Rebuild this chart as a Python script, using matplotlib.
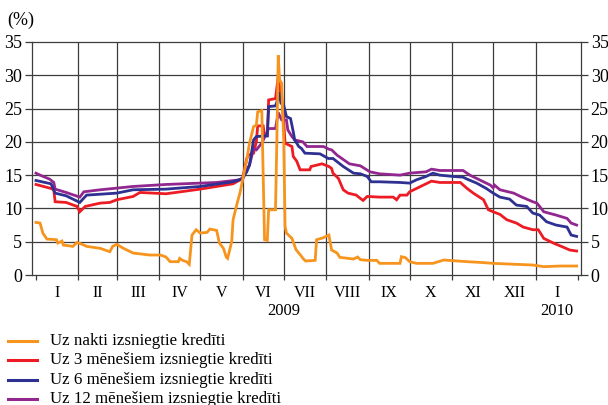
import numpy as np
import matplotlib
matplotlib.use('Agg')
import matplotlib.pyplot as plt
from matplotlib.lines import Line2D
import matplotlib.transforms as mtransforms

plt.rcParams['font.family'] = ['Liberation Serif', 'DejaVu Serif']

# x values: days since 1 January 2009
on_days = [0, 3, 5, 8, 15, 16, 19, 20, 27, 30, 35, 37, 47, 54, 56, 59, 64, 71, 83, 91, 95, 98,
           104, 105, 107, 110, 112, 114, 117, 120, 125, 127, 132, 134, 137, 139, 140, 143, 144,
           147, 149, 151, 154, 156, 159, 161, 162, 165, 166, 167, 169, 170, 175, 176, 177, 178,
           179.5, 181, 182, 183, 187, 190, 194, 195, 197, 204, 205, 210, 214, 216, 220, 222,
           232, 235, 237, 242, 249, 251, 266, 267, 270, 273, 278, 290, 298, 315, 324, 334,
           351, 363, 371, 383, 395]
on_vals = [7.9, 7.8, 6.3, 5.4, 5.3, 4.8, 5.1, 4.5, 4.3, 4.9, 4.5, 4.3, 4.0, 3.5, 4.3, 4.6, 4.0,
           3.3, 3.0, 3.0, 2.7, 2.0, 2.0, 2.5, 2.2, 2.0, 1.6, 6.0, 6.8, 6.3, 6.4, 6.9, 6.7, 4.8,
           4.0, 2.7, 2.5, 5.0, 8.3, 10.8, 12.3, 14.3, 17.3, 19.8, 22.3, 22.5, 24.5, 24.7, 15.0,
           5.3, 5.2, 9.8, 9.8, 20.3, 33.0, 29.3, 28.8, 20.3, 7.3, 6.3, 5.5, 3.8, 2.8, 2.5, 2.1,
           2.2, 5.3, 5.6, 6.0, 3.75, 3.3, 2.65, 2.4, 2.7, 2.3, 2.2, 2.2, 1.75, 1.75, 2.75, 2.6,
           2.0, 1.75, 1.75, 2.25, 2.0, 1.9, 1.75, 1.6, 1.5, 1.25, 1.35, 1.35]

m3_days = [0, 11, 13, 14, 22, 30, 32, 36, 47, 54, 59, 71, 76, 95, 120, 144, 151, 154, 155, 159,
           161, 162, 166, 167, 169, 170, 175, 177, 178, 179.5, 181, 182, 187, 188, 190.5, 193,
           200, 201, 205, 209, 214, 216, 217, 221, 224.5, 228, 234, 237, 239, 242, 251, 261,
           263.5, 266, 271, 273, 281, 289, 295, 305, 310, 315, 319.5, 327, 330.5, 334, 339, 344,
           351, 356, 363, 367, 371, 378, 385, 390, 395]
m3_vals = [13.6, 13.0, 12.8, 11.0, 10.9, 10.3, 9.5, 10.3, 10.8, 10.9, 11.3, 11.8, 12.4, 12.2,
           12.9, 13.7, 14.5, 17.5, 18.0, 18.3, 20.0, 22.4, 22.4, 20.9, 20.9, 26.3, 26.5, 29.8,
           28.3, 26.9, 22.8, 19.8, 19.3, 17.8, 17.1, 15.8, 15.8, 16.3, 16.5, 16.7, 16.3, 16.0,
           15.3, 14.5, 12.8, 12.3, 12.0, 11.5, 11.2, 11.8, 11.7, 11.7, 11.3, 12.0, 12.0, 12.5,
           13.3, 14.1, 13.9, 13.9, 13.9, 13.0, 12.3, 11.3, 9.8, 9.5, 9.1, 8.3, 7.8, 7.2, 6.8,
           6.8, 5.5, 4.8, 4.2, 3.75, 3.6]

m6_days = [0, 11, 14, 22, 32, 37, 59, 71, 95, 120, 144, 151, 154, 156, 159, 161, 169, 170, 175,
           176, 177.5, 179, 181, 183, 186, 188, 189, 192, 194, 196.5, 207.5, 211, 213.6, 217,
           224.5, 232, 237, 242, 245, 251, 266, 273, 278, 285, 290, 295, 305, 312, 315, 322,
           329, 334, 339, 346, 351, 358.5, 363, 368, 373, 380, 388, 391, 395]
m6_vals = [14.2, 13.7, 12.3, 11.9, 10.9, 12.0, 12.3, 12.8, 12.9, 13.3, 14.0, 14.5, 15.5, 16.5,
           20.3, 20.8, 20.9, 25.3, 25.4, 26.0, 27.5, 25.8, 25.5, 23.8, 23.5, 21.5, 20.3, 19.3,
           19.0, 18.3, 18.2, 17.8, 17.5, 17.5, 16.3, 15.3, 15.2, 14.8, 14.0, 14.0, 13.9, 13.8,
           14.3, 14.8, 15.3, 15.0, 14.8, 14.7, 14.4, 13.8, 13.0, 12.3, 11.7, 11.4, 10.5, 10.3,
           9.3, 9.0, 8.0, 7.5, 7.2, 6.0, 5.8]

m12_days = [0, 3, 10, 13, 14, 22, 32, 35, 47, 71, 95, 132, 149, 151, 153, 156, 159, 161, 165,
            170, 175, 177, 179.5, 183, 184, 187, 189, 195, 198, 210, 214, 216, 220, 229, 237,
            244, 251, 266, 273, 285, 289, 295, 312, 317, 324, 332, 334, 335, 339, 349, 354,
            363, 366, 371, 380, 388, 391, 395]
m12_vals = [15.3, 15.0, 14.4, 13.9, 12.9, 12.4, 11.7, 12.5, 12.8, 13.3, 13.6, 13.9, 14.3, 14.6,
            15.5, 16.5, 19.0, 18.8, 19.8, 22.0, 22.0, 24.4, 23.3, 23.3, 21.8, 20.8, 20.3, 20.0,
            19.3, 19.3, 18.9, 18.8, 18.0, 16.7, 16.4, 15.5, 15.2, 15.0, 15.3, 15.5, 15.9, 15.7,
            15.7, 15.0, 14.3, 13.5, 13.1, 13.5, 12.8, 12.3, 11.8, 11.0, 10.8, 9.5, 9.0, 8.5,
            7.8, 7.5]

series_names = ['Uz nakti izsniegtie kredīti', 'Uz 3 mēnešiem izsniegtie kredīti',
                'Uz 6 mēnešiem izsniegtie kredīti', 'Uz 12 mēnešiem izsniegtie kredīti']
series_colors = ['#F7941D', '#ED1C24', '#2E3192', '#92278F']

month_starts = [0, 31, 59, 90, 120, 151, 181, 212, 243, 273, 304, 334, 365, 396]
month_labels = ['I', 'II', 'III', 'IV', 'V', 'VI', 'VII', 'VIII', 'IX', 'X', 'XI', 'XII', 'I']
year_labels = ['2009', '2010']
year_pos = [181, 380.5]
y_ticks = [0, 5, 10, 15, 20, 25, 30, 35]

W, H = 608, 405
fig = plt.figure(figsize=(W / 100, H / 100), dpi=100)
ax = fig.add_axes([32 / W, 130 / H, 549 / W, 233 / H])
ax.set_xlim(-2.9, 398.2)
ax.set_ylim(0, 35)

gcol = '#3c3c3c'
for v in y_ticks[1:-1]:
    ax.axhline(v, color=gcol, lw=0.9, zorder=1)
for m in month_starts[1:-1]:
    ax.axvline(m, color=gcol, lw=0.9, zorder=1)

data = [(on_days, on_vals), (m3_days, m3_vals), (m6_days, m6_vals), (m12_days, m12_vals)]
order = [1, 3, 2, 0]
for z, i in enumerate(order):
    d, v = data[i]
    ax.plot(d, v, color=series_colors[i], lw=2.0, solid_joinstyle='miter', zorder=3 + z)

for s in ['left', 'right', 'bottom', 'top']:
    ax.spines[s].set_color(gcol)
    ax.spines[s].set_linewidth(0.9)

ax.set_yticks(y_ticks)
ax.set_yticklabels([str(t) for t in y_ticks])
ax.tick_params(axis='y', which='major', left=True, right=True, labelleft=True, labelright=True,
               direction='out', length=5, width=0.9, color=gcol, pad=2, labelsize=13)
ax.set_xticks(month_starts)
ax.tick_params(axis='x', which='major', direction='out', length=3.5, width=0.9, color=gcol,
               labelbottom=False)

trans = mtransforms.blended_transform_factory(ax.transData, ax.transAxes)
for k, lab in enumerate(month_labels):
    mid = (month_starts[k] + month_starts[k + 1]) / 2
    ax.text(mid, -22 / 233, lab, transform=trans, ha='center', va='baseline', fontsize=11.5)
for p, lab in zip(year_pos, year_labels):
    ax.text(p, -40 / 233, lab, transform=trans, ha='center', va='baseline', fontsize=12)

fig.text(7 / W, 1 - 20 / H, '(%)', ha='left', va='center', fontsize=13)

row_y = [341, 360, 380, 399]
for i in range(4):
    yy = 1 - row_y[i] / H
    fig.add_artist(Line2D([8 / W, 37 / W], [yy, yy], transform=fig.transFigure,
                          color=series_colors[i], lw=2.2))
    fig.text(50 / W, yy, series_names[i], ha='left', va='center', fontsize=12.2)

fig.savefig('out.png', dpi=100)
